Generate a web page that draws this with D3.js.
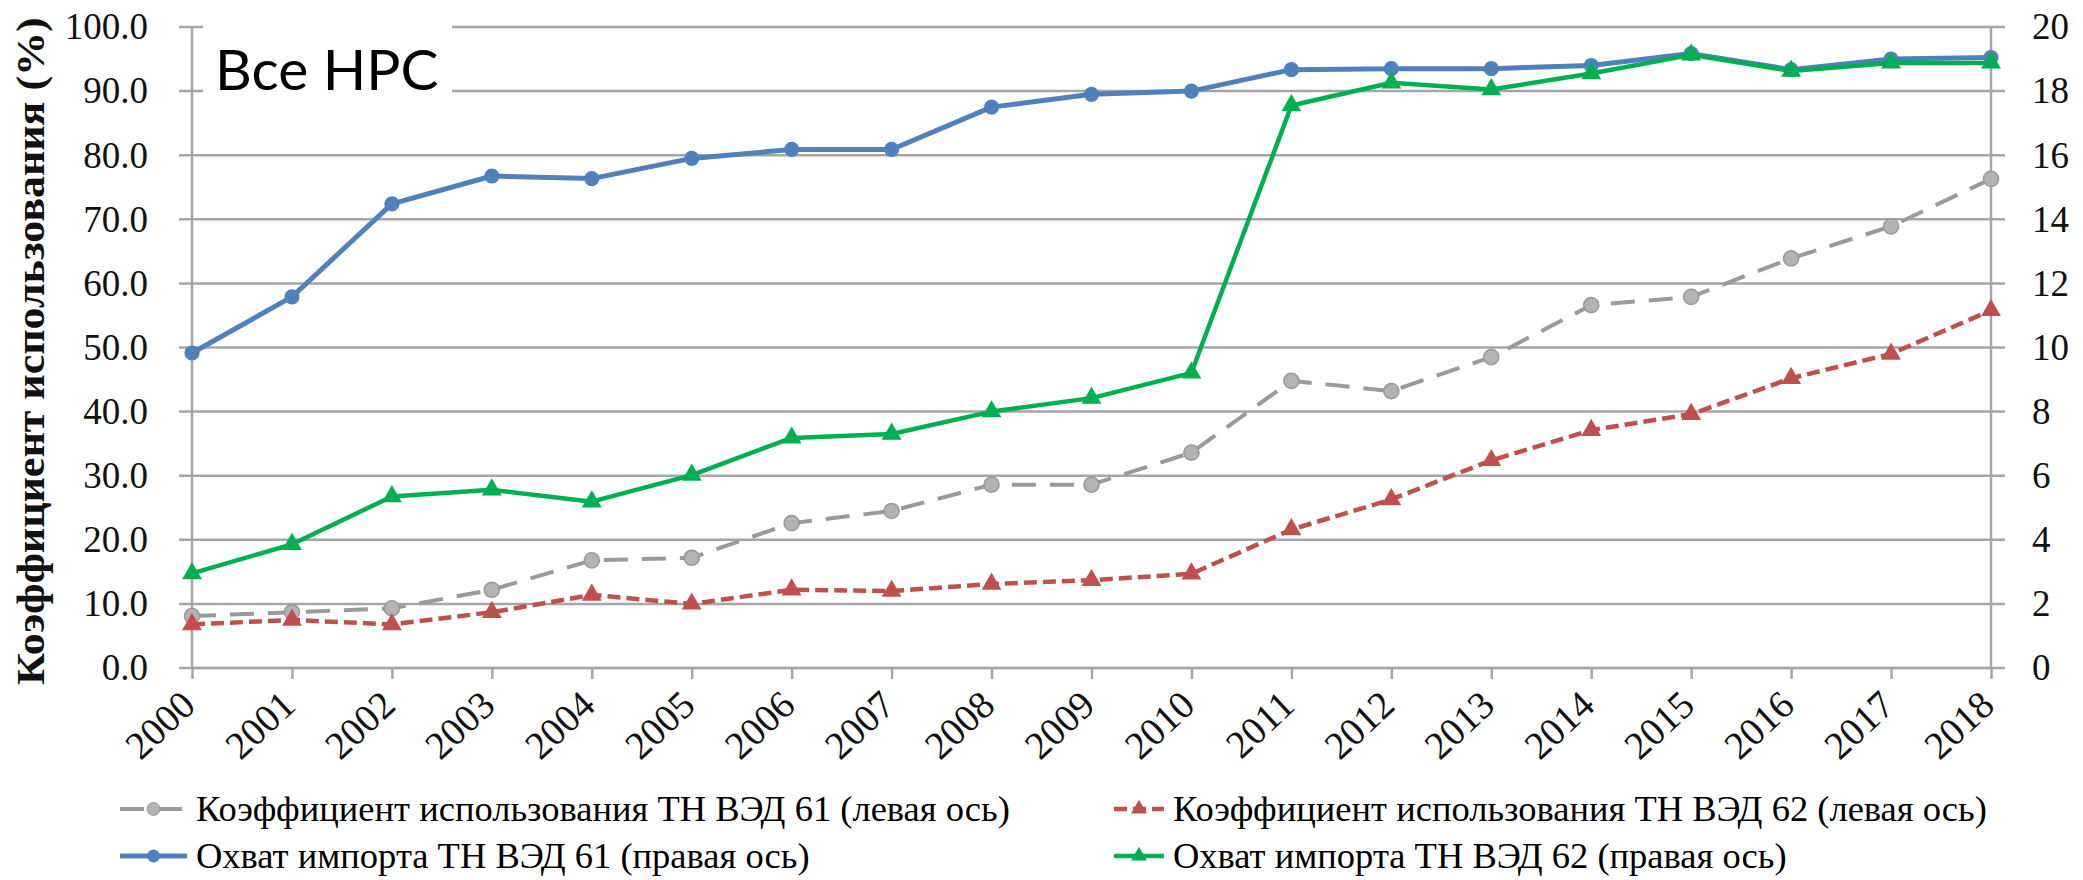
<!DOCTYPE html>
<html>
<head>
<meta charset="utf-8">
<script src="https://cdn.jsdelivr.net/npm/d3@7"></script>
<style>
    body { margin: 0; background: #fff; }
    svg { display: block; }
</style>
</head>
<body>
<script>
// categories
const years = d3.range(2000, 2019).map(String);
// left axis series (%)
const coef61 = [8.1, 8.7, 9.3, 12.2, 16.8, 17.2, 22.6, 24.5, 28.6, 28.6, 33.6, 44.8, 43.2, 48.5, 56.6, 57.9, 63.9, 68.9, 76.3];
const coef62 = [6.8, 7.5, 6.8, 8.7, 11.4, 10.0, 12.2, 12.0, 13.1, 13.7, 14.7, 21.6, 26.3, 32.4, 37.1, 39.6, 45.2, 49.0, 55.8];
// right axis series
const cover61 = [9.83, 11.58, 14.48, 15.35, 15.27, 15.9, 16.18, 16.18, 17.5, 17.9, 18.0, 18.67, 18.7, 18.7, 18.8, 19.17, 18.67, 19.0, 19.05];
const cover62 = [2.95, 3.86, 5.35, 5.56, 5.19, 6.02, 7.18, 7.3, 8.0, 8.42, 9.21, 17.55, 18.26, 18.05, 18.55, 19.13, 18.63, 18.88, 18.88];
// tick labels
const leftTicks = d3.range(0, 101, 10);
const rightTicks = d3.range(0, 21, 2);
const legendLabels = [
    'Коэффициент использования ТН ВЭД 61 (левая ось)',
    'Коэффициент использования ТН ВЭД 62 (левая ось)',
    'Охват импорта ТН ВЭД 61 (правая ось)',
    'Охват импорта ТН ВЭД 62 (правая ось)'
];

const width = 2083, height = 880;
const plot = {left: 192, right: 1991, top: 27, bottom: 668};
const serif = '"Liberation Serif", "Times New Roman", serif';
const gridColor = '#a6a6a6';

const svg = d3.select('body').append('svg')
    .attr('width', width)
    .attr('height', height);

const x = d3.scalePoint().domain(years).range([plot.left, plot.right]);
const yLeft = d3.scaleLinear().domain([0, 100]).range([plot.bottom, plot.top]);
const yRight = d3.scaleLinear().domain([0, 20]).range([plot.bottom, plot.top]);

// gridlines
svg.append('g')
    .selectAll('line')
    .data(leftTicks)
    .enter()
    .append('line')
    .attr('x1', plot.left - 13)
    .attr('x2', plot.right + 14)
    .attr('y1', d => yLeft(d))
    .attr('y2', d => yLeft(d))
    .attr('stroke', gridColor)
    .attr('stroke-width', 2.5);

// left axis
const leftAxis = svg.append('g')
    .attr('transform', `translate(${plot.left},0)`)
    .call(d3.axisLeft(yLeft).tickValues(leftTicks).tickFormat(d3.format('.1f')).tickSize(0).tickPadding(44));
// right axis
const rightAxis = svg.append('g')
    .attr('transform', `translate(${plot.right},0)`)
    .call(d3.axisRight(yRight).tickValues(rightTicks).tickSize(0).tickPadding(41));
// bottom axis
const bottomAxis = svg.append('g')
    .attr('transform', `translate(0,${plot.bottom})`)
    .call(d3.axisBottom(x).tickSize(11).tickPadding(10));

[leftAxis, rightAxis, bottomAxis].forEach((axis) => {
    axis.select('.domain').attr('stroke', gridColor).attr('stroke-width', 2.5);
    axis.selectAll('.tick line').attr('stroke', gridColor).attr('stroke-width', 2.5);
    axis.selectAll('text')
        .attr('fill', '#111')
        .style('font-family', serif)
        .style('font-size', '37px');
});
leftAxis.select('.domain').attr('d', `M0,${plot.top}V${plot.bottom}`);
rightAxis.select('.domain').attr('d', `M0,${plot.top}V${plot.bottom}`);
bottomAxis.select('.domain').attr('d', `M${plot.left},0H${plot.right}`);
bottomAxis.selectAll('text')
    .attr('text-anchor', 'end')
    .attr('dy', null)
    .attr('transform', 'translate(5,40) rotate(-43)')
    .attr('y', 0)
    .attr('x', 0)
    .style('font-size', '39px');

// y label (stretched along its length like the source)
svg.append('text')
    .attr('transform', 'translate(44,685) rotate(-90) scale(1.1,1)')
    .attr('text-anchor', 'start')
    .style('font-family', serif)
    .style('font-weight', 'bold')
    .style('font-size', '40px')
    .attr('fill', '#111')
    .text('Коэффициент использования (%)');

// title box
svg.append('rect')
    .attr('x', 203)
    .attr('y', 15)
    .attr('width', 249)
    .attr('height', 85)
    .attr('fill', '#fff');
svg.append('text')
    .attr('x', 215)
    .attr('y', 90)
    .style('font-family', 'Lato, "Open Sans", sans-serif')
    .style('font-size', '57px')
    .attr('fill', '#000')
    .text('Все НРС');

// series
const series = [
    {values: coef61, scale: yLeft, color: '#9a9a9a', marker: 'circle', width: 4, dash: '24,14', fill: '#b3b3b3'},
    {values: coef62, scale: yLeft, color: '#c0504d', marker: 'triangle', width: 4.5, dash: '13,6', fill: '#c0504d'},
    {values: cover61, scale: yRight, color: '#4f81bd', marker: 'circle', width: 5, dash: null, fill: '#4f81bd'},
    {values: cover62, scale: yRight, color: '#00b050', marker: 'triangle', width: 4.5, dash: null, fill: '#00b050'}
];

const symbolFor = (s) => s.marker === 'circle'
    ? d3.symbol(d3.symbolCircle, 180)
    : d3.symbol(d3.symbolTriangle, 170);

series.forEach((s) => {
    const line = d3.line()
        .x((d, i) => x(years[i]))
        .y(d => s.scale(d));
    svg.append('path')
        .datum(s.values)
        .attr('d', line)
        .attr('fill', 'none')
        .attr('stroke', s.color)
        .attr('stroke-width', s.width)
        .attr('stroke-dasharray', s.dash)
        .attr('stroke-linejoin', 'round');
    svg.append('g')
        .selectAll('path')
        .data(s.values)
        .enter()
        .append('path')
        .attr('d', symbolFor(s))
        .attr('transform', (d, i) => `translate(${x(years[i])},${s.scale(d)})`)
        .attr('fill', s.fill)
        .attr('stroke', s.marker === 'circle' && s.dash ? '#999' : 'none')
        .attr('stroke-width', 1.5);
});

// legend
const legendPos = [
    {x: 120, y: 809}, {x: 1114, y: 809},
    {x: 120, y: 856}, {x: 1114, y: 856}
];
const legendLine = [67, 50, 67, 50];
legendPos.forEach((p, k) => {
    const s = series[k];
    const lineLen = legendLine[k];
    const g = svg.append('g').attr('transform', `translate(${p.x},${p.y})`);
    g.append('line')
        .attr('x1', 0)
        .attr('x2', lineLen)
        .attr('stroke', s.color)
        .attr('stroke-width', s.width)
        .attr('stroke-dasharray', s.dash);
    g.append('path')
        .attr('d', symbolFor(s).size(s.marker === 'circle' ? 130 : 110))
        .attr('transform', `translate(${lineLen / 2},0)`)
        .attr('fill', s.fill)
        .attr('stroke', s.marker === 'circle' && s.dash ? '#999' : 'none');
    g.append('text')
        .attr('x', lineLen + 9)
        .attr('dy', '0.34em')
        .style('font-family', serif)
        .style('font-size', '36.5px')
        .attr('fill', '#000')
        .text(legendLabels[k]);
});
</script>
</body>
</html>
